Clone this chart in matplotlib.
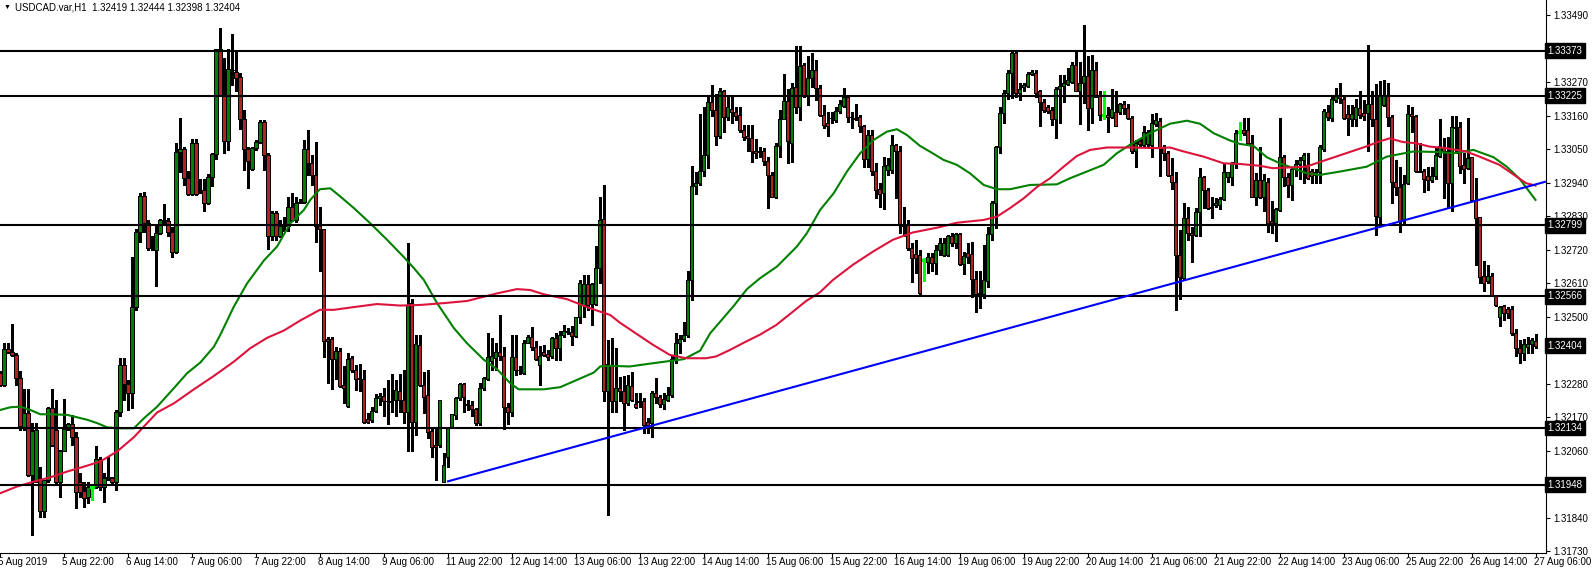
import numpy as np
import matplotlib
matplotlib.use("Agg")
import matplotlib.pyplot as plt
from matplotlib.collections import LineCollection, PolyCollection

plt.rcParams['font.family'] = ['Liberation Sans', 'DejaVu Sans']

# USDCAD H1, bars from 5 Aug 2019 06:00 to 27 Aug 2019 06:00 (bar index -1 .. 383)
opens = [
    1.32314, 1.32276, 1.32393, 1.32383, 1.32374, 1.32297, 1.32133, 1.32182, 1.31980, 1.31958,
    1.31964, 1.31863, 1.31964, 1.32199, 1.32128, 1.31958, 1.32059, 1.32130, 1.32147, 1.32106,
    1.31955, 1.31927, 1.31906, 1.31940, 1.31940, 1.32031, 1.31940, 1.31973, 1.31971, 1.31958,
    1.32186, 1.32341, 1.32278, 1.32250, 1.32531, 1.32778, 1.32896, 1.32806, 1.32728, 1.32719,
    1.32774, 1.32817, 1.32813, 1.32778, 1.32711, 1.33039, 1.33049, 1.32954, 1.32902, 1.33069,
    1.32916, 1.32914, 1.32872, 1.32957, 1.33034, 1.33378, 1.33228, 1.33076, 1.33310, 1.33304,
    1.33286, 1.33148, 1.33049, 1.32984, 1.33053, 1.33072, 1.33138, 1.33031, 1.32763, 1.32839,
    1.32765, 1.32800, 1.32798, 1.32861, 1.32817, 1.32874, 1.32877, 1.33049, 1.33003, 1.32965,
    1.32798, 1.32787, 1.32425, 1.32425, 1.32360, 1.32387, 1.32276, 1.32207, 1.32363, 1.32325,
    1.32297, 1.32294, 1.32164, 1.32161, 1.32191, 1.32232, 1.32239, 1.32223, 1.32221, 1.32226,
    1.32257, 1.32226, 1.32185, 1.32546, 1.32155, 1.32407, 1.32276, 1.32243, 1.32125, 1.32079,
    1.32079, 1.31958, 1.32038, 1.32136, 1.32177, 1.32232, 1.32279, 1.32212, 1.32210, 1.32196,
    1.32150, 1.32265, 1.32294, 1.32355, 1.32363, 1.32382, 1.32369, 1.32204, 1.32185, 1.32366,
    1.32325, 1.32316, 1.32414, 1.32432, 1.32399, 1.32341, 1.32385, 1.32377, 1.32369, 1.32429,
    1.32396, 1.32440, 1.32452, 1.32450, 1.32437, 1.32500, 1.32538, 1.32606, 1.32540, 1.32540,
    1.32659, 1.32819, 1.32257, 1.32341, 1.32221, 1.32265, 1.32254, 1.32215, 1.32272, 1.32213,
    1.32221, 1.32221, 1.32153, 1.32150, 1.32248, 1.32235, 1.32213, 1.32226, 1.32241, 1.32360,
    1.32412, 1.32425, 1.32440, 1.32620, 1.32929, 1.32938, 1.32978, 1.33031, 1.33206, 1.33178,
    1.33093, 1.33239, 1.33154, 1.33180, 1.33170, 1.33162, 1.33111, 1.33093, 1.33085, 1.33045,
    1.33043, 1.33042, 1.33012, 1.32965, 1.32894, 1.33060, 1.33148, 1.33209, 1.33069, 1.33253,
    1.33187, 1.33326, 1.33228, 1.33283, 1.33310, 1.33250, 1.33162, 1.33135, 1.33153, 1.33146,
    1.33176, 1.33192, 1.33222, 1.33156, 1.33150, 1.33154, 1.33124, 1.33016, 1.33096, 1.32979,
    1.32918, 1.32907, 1.32981, 1.32981, 1.33064, 1.33045, 1.32804, 1.32801, 1.32724, 1.32706,
    1.32702, 1.32684, 1.32680, 1.32695, 1.32675, 1.32719, 1.32702, 1.32702, 1.32765, 1.32741,
    1.32771, 1.32673, 1.32708, 1.32704, 1.32622, 1.32576, 1.32574, 1.32615, 1.32772, 1.32872,
    1.33058, 1.33168, 1.33233, 1.33299, 1.33364, 1.33235, 1.33255, 1.33257, 1.33297, 1.33301,
    1.33239, 1.33206, 1.33187, 1.33178, 1.33148, 1.33246, 1.33257, 1.33264, 1.33271, 1.33326,
    1.33242, 1.33266, 1.33290, 1.33184, 1.33310, 1.33225, 1.33162, 1.33162, 1.33154, 1.33170,
    1.33170, 1.33198, 1.33184, 1.33151, 1.33045, 1.33075, 1.33064, 1.33067, 1.33064, 1.33132,
    1.33143, 1.33056, 1.33038, 1.32965, 1.32943, 1.32702, 1.32626, 1.32823, 1.32774, 1.32768,
    1.32842, 1.32957, 1.32916, 1.32858, 1.32866, 1.32867, 1.32885, 1.32957, 1.32957, 1.33001,
    1.33107, 1.33113, 1.33113, 1.33069, 1.32894, 1.32948, 1.32894, 1.32943, 1.32812, 1.32808,
    1.32850, 1.33025, 1.32957, 1.32932, 1.32984, 1.33001, 1.33014, 1.32998, 1.32979, 1.32965,
    1.32973, 1.33049, 1.33173, 1.33151, 1.33211, 1.33225, 1.33213, 1.33165, 1.33148, 1.33148,
    1.33184, 1.33168, 1.33168, 1.33198, 1.33148, 1.32828, 1.33195, 1.33228, 1.33154, 1.32943,
    1.32925, 1.32812, 1.32938, 1.33165, 1.33157, 1.32979, 1.32979, 1.32960, 1.32947, 1.32960,
    1.33027, 1.33058, 1.33045, 1.32938, 1.33118, 1.33122, 1.32998, 1.32987, 1.33023, 1.32881,
    1.32828, 1.32633, 1.32615, 1.32633, 1.32566, 1.32500, 1.32535, 1.32524, 1.32524, 1.32445,
    1.32396, 1.32379, 1.32401, 1.32410, 1.32419,
]
highs = [
    1.32321, 1.32412, 1.32412, 1.32476, 1.32379, 1.32321, 1.32261, 1.32261, 1.32150, 1.32150,
    1.32007, 1.31964, 1.32204, 1.32261, 1.32226, 1.32062, 1.32228, 1.32152, 1.32177, 1.32122,
    1.31985, 1.31958, 1.31958, 1.31951, 1.32076, 1.32040, 1.31985, 1.32038, 1.31974, 1.32193,
    1.32365, 1.32365, 1.32292, 1.32695, 1.32787, 1.32907, 1.32910, 1.32817, 1.32763, 1.32801,
    1.32819, 1.32870, 1.32823, 1.32795, 1.33069, 1.33151, 1.33058, 1.32979, 1.33082, 1.33082,
    1.32951, 1.32951, 1.32968, 1.33036, 1.33380, 1.33447, 1.33350, 1.33378, 1.33428, 1.33376,
    1.33299, 1.33178, 1.33058, 1.33058, 1.33080, 1.33146, 1.33146, 1.33038, 1.32848, 1.32848,
    1.32817, 1.32826, 1.32894, 1.32905, 1.32894, 1.32885, 1.33078, 1.33111, 1.33031, 1.33074,
    1.32861, 1.32787, 1.32434, 1.32434, 1.32401, 1.32396, 1.32336, 1.32379, 1.32369, 1.32341,
    1.32344, 1.32325, 1.32182, 1.32204, 1.32246, 1.32248, 1.32265, 1.32292, 1.32312, 1.32292,
    1.32312, 1.32325, 1.32743, 1.32557, 1.32440, 1.32440, 1.32319, 1.32323, 1.32136, 1.32133,
    1.32226, 1.32051, 1.32136, 1.32180, 1.32237, 1.32283, 1.32281, 1.32226, 1.32221, 1.32199,
    1.32283, 1.32303, 1.32445, 1.32429, 1.32412, 1.32505, 1.32401, 1.32217, 1.32440, 1.32440,
    1.32336, 1.32423, 1.32440, 1.32465, 1.32418, 1.32403, 1.32407, 1.32390, 1.32434, 1.32445,
    1.32451, 1.32473, 1.32462, 1.32469, 1.32500, 1.32620, 1.32637, 1.32637, 1.32609, 1.32730,
    1.32894, 1.32932, 1.32423, 1.32429, 1.32396, 1.32303, 1.32305, 1.32308, 1.32319, 1.32248,
    1.32248, 1.32232, 1.32166, 1.32254, 1.32297, 1.32243, 1.32248, 1.32270, 1.32369, 1.32447,
    1.32440, 1.32483, 1.32648, 1.32995, 1.32976, 1.33164, 1.33189, 1.33220, 1.33261, 1.33231,
    1.33250, 1.33245, 1.33222, 1.33220, 1.33187, 1.33187, 1.33129, 1.33129, 1.33129, 1.33082,
    1.33058, 1.33053, 1.33025, 1.32976, 1.33071, 1.33178, 1.33297, 1.33246, 1.33266, 1.33389,
    1.33389, 1.33332, 1.33356, 1.33365, 1.33343, 1.33261, 1.33195, 1.33170, 1.33170, 1.33187,
    1.33211, 1.33250, 1.33228, 1.33173, 1.33198, 1.33162, 1.33129, 1.33113, 1.33113, 1.33003,
    1.32938, 1.33023, 1.33020, 1.33096, 1.33067, 1.33060, 1.32859, 1.32817, 1.32741, 1.32752,
    1.32719, 1.32691, 1.32708, 1.32708, 1.32735, 1.32757, 1.32757, 1.32768, 1.32774, 1.32774,
    1.32774, 1.32713, 1.32743, 1.32746, 1.32648, 1.32648, 1.32735, 1.32795, 1.32878, 1.33060,
    1.33189, 1.33244, 1.33310, 1.33370, 1.33370, 1.33266, 1.33268, 1.33304, 1.33310, 1.33310,
    1.33244, 1.33213, 1.33195, 1.33189, 1.33255, 1.33293, 1.33293, 1.33315, 1.33337, 1.33376,
    1.33337, 1.33458, 1.33354, 1.33359, 1.33337, 1.33239, 1.33239, 1.33187, 1.33246, 1.33242,
    1.33202, 1.33209, 1.33198, 1.33157, 1.33080, 1.33082, 1.33124, 1.33113, 1.33165, 1.33168,
    1.33151, 1.33064, 1.33045, 1.33020, 1.32976, 1.32784, 1.32872, 1.32861, 1.32795, 1.32856,
    1.32987, 1.32960, 1.32921, 1.32894, 1.32889, 1.32894, 1.33003, 1.32976, 1.33009, 1.33113,
    1.33140, 1.33151, 1.33151, 1.33096, 1.32971, 1.33058, 1.32968, 1.32954, 1.32878, 1.32856,
    1.33151, 1.33031, 1.32971, 1.32992, 1.33014, 1.33025, 1.33038, 1.33036, 1.32984, 1.32984,
    1.33064, 1.33181, 1.33195, 1.33228, 1.33250, 1.33268, 1.33220, 1.33195, 1.33195, 1.33213,
    1.33242, 1.33211, 1.33392, 1.33239, 1.33264, 1.33272, 1.33277, 1.33266, 1.33162, 1.33014,
    1.32992, 1.32965, 1.33195, 1.33189, 1.33162, 1.33069, 1.32984, 1.32992, 1.32992, 1.33058,
    1.33148, 1.33085, 1.33091, 1.33159, 1.33159, 1.33140, 1.33036, 1.33151, 1.33025, 1.32954,
    1.32828, 1.32681, 1.32670, 1.32642, 1.32571, 1.32533, 1.32537, 1.32531, 1.32535, 1.32458,
    1.32423, 1.32425, 1.32432, 1.32429, 1.32444,
]
lows = [
    1.32272, 1.32272, 1.32379, 1.32369, 1.32276, 1.32128, 1.32128, 1.31975, 1.31783, 1.31955,
    1.31843, 1.31841, 1.31958, 1.32076, 1.31953, 1.31909, 1.32057, 1.32128, 1.32079, 1.31871,
    1.31909, 1.31876, 1.31887, 1.31898, 1.31937, 1.31931, 1.31890, 1.31964, 1.31953, 1.31931,
    1.32172, 1.32226, 1.32193, 1.32199, 1.32522, 1.32746, 1.32779, 1.32717, 1.32719, 1.32601,
    1.32772, 1.32806, 1.32763, 1.32695, 1.32708, 1.32976, 1.32932, 1.32899, 1.32899, 1.32899,
    1.32905, 1.32845, 1.32869, 1.32927, 1.33016, 1.33228, 1.33036, 1.33047, 1.33261, 1.33239,
    1.33115, 1.32981, 1.32921, 1.32981, 1.33047, 1.33069, 1.32981, 1.32721, 1.32752, 1.32752,
    1.32761, 1.32782, 1.32782, 1.32812, 1.32809, 1.32872, 1.32874, 1.32965, 1.32932, 1.32746,
    1.32651, 1.32366, 1.32283, 1.32261, 1.32294, 1.32270, 1.32217, 1.32204, 1.32319, 1.32259,
    1.32257, 1.32152, 1.32150, 1.32155, 1.32188, 1.32210, 1.32172, 1.32147, 1.32185, 1.32172,
    1.32185, 1.32150, 1.32057, 1.32060, 1.32111, 1.32272, 1.32182, 1.32100, 1.32040, 1.31964,
    1.32073, 1.31955, 1.32005, 1.32136, 1.32163, 1.32226, 1.32188, 1.32193, 1.32172, 1.32144,
    1.32144, 1.32259, 1.32292, 1.32323, 1.32325, 1.32358, 1.32130, 1.32147, 1.32172, 1.32308,
    1.32312, 1.32312, 1.32412, 1.32390, 1.32358, 1.32276, 1.32371, 1.32358, 1.32363, 1.32358,
    1.32358, 1.32434, 1.32443, 1.32407, 1.32434, 1.32478, 1.32500, 1.32522, 1.32473, 1.32538,
    1.32609, 1.32221, 1.31849, 1.32188, 1.32188, 1.32221, 1.32128, 1.32210, 1.32221, 1.32199,
    1.32204, 1.32119, 1.32117, 1.32106, 1.32217, 1.32202, 1.32196, 1.32221, 1.32237, 1.32347,
    1.32379, 1.32418, 1.32434, 1.32555, 1.32902, 1.32932, 1.32960, 1.32987, 1.33157, 1.33064,
    1.33085, 1.33107, 1.33146, 1.33135, 1.33146, 1.33107, 1.33080, 1.33042, 1.33009, 1.33020,
    1.33025, 1.32998, 1.32856, 1.32892, 1.32888, 1.33025, 1.33148, 1.33003, 1.33009, 1.33168,
    1.33146, 1.33220, 1.33195, 1.33255, 1.33211, 1.33157, 1.33118, 1.33093, 1.33135, 1.33140,
    1.33168, 1.33187, 1.33140, 1.33118, 1.33146, 1.33107, 1.32992, 1.32992, 1.32965, 1.32888,
    1.32861, 1.32852, 1.32965, 1.32970, 1.32888, 1.32774, 1.32765, 1.32719, 1.32612, 1.32643,
    1.32575, 1.32615, 1.32643, 1.32651, 1.32640, 1.32702, 1.32699, 1.32699, 1.32730, 1.32724,
    1.32669, 1.32640, 1.32675, 1.32565, 1.32514, 1.32527, 1.32560, 1.32598, 1.32752, 1.32790,
    1.33036, 1.33135, 1.33213, 1.33217, 1.33222, 1.33211, 1.33239, 1.33255, 1.33293, 1.33222,
    1.33124, 1.33173, 1.33168, 1.33129, 1.33085, 1.33135, 1.33206, 1.33261, 1.33266, 1.33239,
    1.33132, 1.33200, 1.33113, 1.33135, 1.33220, 1.33146, 1.33148, 1.33107, 1.33151, 1.33124,
    1.33165, 1.33165, 1.33148, 1.33038, 1.32990, 1.33060, 1.33060, 1.33060, 1.33025, 1.33126,
    1.32960, 1.33014, 1.32960, 1.32918, 1.32522, 1.32557, 1.32622, 1.32752, 1.32680, 1.32763,
    1.32763, 1.32856, 1.32852, 1.32823, 1.32861, 1.32852, 1.32883, 1.32943, 1.32932, 1.32987,
    1.33080, 1.33096, 1.33067, 1.32892, 1.32867, 1.32888, 1.32845, 1.32779, 1.32774, 1.32749,
    1.32848, 1.32927, 1.32892, 1.32883, 1.32960, 1.32951, 1.32940, 1.32951, 1.32938, 1.32940,
    1.32940, 1.33045, 1.33146, 1.33143, 1.33206, 1.33200, 1.33148, 1.33096, 1.33124, 1.33126,
    1.33151, 1.33146, 1.33042, 1.33124, 1.32768, 1.32808, 1.33192, 1.33124, 1.32872, 1.32899,
    1.32779, 1.32804, 1.32935, 1.33107, 1.32976, 1.32973, 1.32910, 1.32916, 1.32943, 1.32951,
    1.33025, 1.32888, 1.32859, 1.32848, 1.33036, 1.32970, 1.32940, 1.32984, 1.32878, 1.32669,
    1.32609, 1.32585, 1.32609, 1.32566, 1.32535, 1.32469, 1.32489, 1.32494, 1.32440, 1.32369,
    1.32349, 1.32358, 1.32379, 1.32379, 1.32398,
]
closes = [
    1.32276, 1.32393, 1.32382, 1.32374, 1.32297, 1.32139, 1.32182, 1.31980, 1.32124, 1.32128,
    1.31863, 1.31964, 1.32198, 1.32079, 1.31958, 1.32059, 1.32130, 1.32147, 1.32106, 1.31925,
    1.31925, 1.31903, 1.31940, 1.31940, 1.32031, 1.31940, 1.31969, 1.31971, 1.31958, 1.32186,
    1.32341, 1.32278, 1.32250, 1.32531, 1.32778, 1.32896, 1.32806, 1.32724, 1.32726, 1.32774,
    1.32817, 1.32815, 1.32778, 1.32713, 1.33039, 1.33049, 1.32954, 1.32902, 1.33069, 1.32903,
    1.32914, 1.32872, 1.32957, 1.33034, 1.33378, 1.33228, 1.33076, 1.33312, 1.33308, 1.33283,
    1.33148, 1.33049, 1.33012, 1.33053, 1.33072, 1.33138, 1.33031, 1.32763, 1.32839, 1.32765,
    1.32798, 1.32798, 1.32861, 1.32817, 1.32874, 1.32877, 1.33049, 1.33003, 1.32965, 1.32798,
    1.32787, 1.32418, 1.32418, 1.32360, 1.32387, 1.32272, 1.32265, 1.32360, 1.32323, 1.32294,
    1.32295, 1.32155, 1.32155, 1.32191, 1.32232, 1.32239, 1.32221, 1.32221, 1.32219, 1.32259,
    1.32226, 1.32185, 1.32538, 1.32155, 1.32410, 1.32276, 1.32237, 1.32122, 1.32073, 1.32073,
    1.32226, 1.32013, 1.32136, 1.32180, 1.32232, 1.32279, 1.32237, 1.32210, 1.32196, 1.32152,
    1.32265, 1.32297, 1.32366, 1.32369, 1.32382, 1.32369, 1.32204, 1.32185, 1.32366, 1.32323,
    1.32323, 1.32414, 1.32434, 1.32399, 1.32360, 1.32369, 1.32374, 1.32366, 1.32429, 1.32396,
    1.32440, 1.32453, 1.32450, 1.32437, 1.32500, 1.32609, 1.32606, 1.32538, 1.32606, 1.32659,
    1.32817, 1.32257, 1.32344, 1.32221, 1.32265, 1.32254, 1.32215, 1.32276, 1.32226, 1.32202,
    1.32219, 1.32144, 1.32144, 1.32248, 1.32235, 1.32213, 1.32228, 1.32241, 1.32360, 1.32412,
    1.32425, 1.32440, 1.32620, 1.32929, 1.32938, 1.32978, 1.33031, 1.33206, 1.33178, 1.33093,
    1.33242, 1.33154, 1.33187, 1.33170, 1.33159, 1.33111, 1.33091, 1.33085, 1.33045, 1.33038,
    1.33041, 1.33012, 1.32965, 1.32894, 1.33060, 1.33148, 1.33209, 1.33075, 1.33250, 1.33187,
    1.33323, 1.33228, 1.33283, 1.33308, 1.33250, 1.33162, 1.33129, 1.33126, 1.33151, 1.33176,
    1.33198, 1.33222, 1.33154, 1.33154, 1.33152, 1.33124, 1.33016, 1.33096, 1.32979, 1.32916,
    1.32903, 1.32995, 1.32998, 1.33064, 1.33045, 1.32804, 1.32798, 1.32724, 1.32691, 1.32691,
    1.32577, 1.32684, 1.32695, 1.32675, 1.32719, 1.32741, 1.32743, 1.32765, 1.32741, 1.32771,
    1.32673, 1.32699, 1.32695, 1.32622, 1.32574, 1.32574, 1.32620, 1.32772, 1.32872, 1.33058,
    1.33168, 1.33233, 1.33301, 1.33364, 1.33235, 1.33246, 1.33261, 1.33297, 1.33304, 1.33235,
    1.33206, 1.33178, 1.33176, 1.33148, 1.33246, 1.33257, 1.33268, 1.33275, 1.33326, 1.33242,
    1.33268, 1.33290, 1.33184, 1.33310, 1.33222, 1.33162, 1.33162, 1.33154, 1.33181, 1.33126,
    1.33198, 1.33184, 1.33151, 1.33042, 1.33071, 1.33067, 1.33107, 1.33107, 1.33135, 1.33146,
    1.33056, 1.33038, 1.32965, 1.32943, 1.32702, 1.32629, 1.32823, 1.32774, 1.32768, 1.32842,
    1.32957, 1.32916, 1.32856, 1.32856, 1.32872, 1.32885, 1.32973, 1.32973, 1.33005, 1.33104,
    1.33107, 1.33104, 1.33069, 1.32894, 1.32948, 1.32894, 1.32948, 1.32808, 1.32806, 1.32852,
    1.33025, 1.32957, 1.32932, 1.32984, 1.33001, 1.33014, 1.33031, 1.32954, 1.32960, 1.32976,
    1.33056, 1.33176, 1.33154, 1.33213, 1.33225, 1.33217, 1.33151, 1.33151, 1.33165, 1.33187,
    1.33162, 1.33159, 1.33198, 1.33148, 1.32830, 1.33225, 1.33228, 1.33154, 1.32943, 1.32925,
    1.32812, 1.32935, 1.33165, 1.33157, 1.32979, 1.32976, 1.32951, 1.32947, 1.32962, 1.33031,
    1.33060, 1.33045, 1.32938, 1.33122, 1.33122, 1.32995, 1.32984, 1.33020, 1.32881, 1.32823,
    1.32631, 1.32611, 1.32633, 1.32568, 1.32538, 1.32531, 1.32511, 1.32511, 1.32445, 1.32396,
    1.32379, 1.32410, 1.32410, 1.32423, 1.32404,
]

# moving averages, read at bar positions
ma_fast_bar = [-1, 1.6, 4.1, 6.6, 9.1, 11.6, 15.8, 18.3, 20.8, 23.3, 25.8, 29.1, 32.5, 35, 38.3,
               42.5, 45.8, 49.1, 52.5, 54.1, 57.5, 60.8, 65, 68.3, 71.6, 75, 76.6, 79, 81.6, 84.1,
               87.5, 91.6, 95.8, 100, 102.5, 105, 108.3, 112.5, 115.8, 120, 123.3, 126.6, 128.7,
               135, 139.1, 143.3, 147.5, 149.1, 151.6, 156.5, 162.5, 170, 174.1, 176.6, 179.1,
               182.5, 185.8, 189.1, 193.3, 198.3, 200.8, 204.1, 207.5, 210.8, 214.1, 217.5, 220.8,
               223.3, 225.8, 229.1, 232, 235, 238.3, 241.6, 245, 248.3, 251.6, 256.6, 263.3, 266.6,
               270.8, 275, 278.3, 281.6, 286.6, 291.6, 295.8, 299.1, 302.5, 306.6, 309, 312.5,
               315.8, 319.1, 322.5, 325.8, 329.1, 334.1, 340.8, 345.8, 352.5, 359.1, 362.5, 367.5,
               372.5, 375.8, 379.1, 383]
ma_fast = [1.32193, 1.32202, 1.32204, 1.32193, 1.32179, 1.32179, 1.32177, 1.32169, 1.32161, 1.32150,
           1.32136, 1.32133, 1.32133, 1.32166, 1.32204, 1.32265, 1.32314, 1.32349, 1.32401, 1.32440,
           1.32533, 1.32609, 1.32684, 1.32730, 1.32806, 1.32850, 1.32883, 1.32918, 1.32921, 1.32894,
           1.32856, 1.32806, 1.32752, 1.32695, 1.32659, 1.32620, 1.32544, 1.32462, 1.32412, 1.32358,
           1.32327, 1.32281, 1.32261, 1.32261, 1.32268, 1.32292, 1.32316, 1.32336, 1.32338, 1.32336,
           1.32347, 1.32360, 1.32388, 1.32445, 1.32483, 1.32535, 1.32590, 1.32626, 1.32664, 1.32730,
           1.32774, 1.32850, 1.32905, 1.32976, 1.33036, 1.33080, 1.33107, 1.33115, 1.33096, 1.33060,
           1.33038, 1.33014, 1.32998, 1.32970, 1.32932, 1.32918, 1.32918, 1.32932, 1.32934, 1.32954,
           1.32976, 1.32998, 1.33036, 1.33064, 1.33102, 1.33133, 1.33143, 1.33133, 1.33102, 1.33078,
           1.33067, 1.33060, 1.33023, 1.33003, 1.32987, 1.32970, 1.32965, 1.32976, 1.32992, 1.33025,
           1.33042, 1.33040, 1.33036, 1.33047, 1.33023, 1.32992, 1.32951, 1.32883]
ma_slow_bar = [-0.9, 3.3, 7.5, 11.6, 15.8, 20, 24.1, 28.3, 32.5, 35, 38.3, 42.5, 47.5, 52.5, 57.5,
               61.6, 65.8, 70, 74.1, 79, 82.5, 87.5, 93.3, 99.1, 104.1, 110, 115.8, 123.3, 128.3,
               131.6, 135, 140.8, 146.6, 151.6, 154, 157.3, 162.3, 166.5, 170.6, 175.6, 178.1,
               181.5, 185.6, 189, 193.1, 197.3, 200.6, 204, 207.3, 212.3, 217.3, 222.3, 227.3,
               233.8, 238.3, 245, 248.3, 251.6, 255, 258.3, 261.6, 265, 268.3, 271.6, 275.8, 281.6,
               288.3, 291.6, 295, 300, 305, 309, 314, 317.3, 322.3, 325.6, 330.6, 335.6, 340.6, 344,
               346.5, 349.8, 353.1, 356.5, 360.6, 365.6, 369, 374, 377.3, 380.6, 383]
ma_slow = [1.31920, 1.31942, 1.31958, 1.31972, 1.31991, 1.32007, 1.32024, 1.32057, 1.32104, 1.32139,
           1.32185, 1.32215, 1.32261, 1.32305, 1.32352, 1.32396, 1.32430, 1.32454, 1.32487, 1.32522,
           1.32522, 1.32531, 1.32541, 1.32536, 1.32538, 1.32544, 1.32551, 1.32576, 1.32590, 1.32587,
           1.32573, 1.32557, 1.32527, 1.32505, 1.32480, 1.32451, 1.32407, 1.32374, 1.32363, 1.32363,
           1.32369, 1.32390, 1.32418, 1.32440, 1.32472, 1.32516, 1.32551, 1.32579, 1.32620, 1.32670,
           1.32713, 1.32752, 1.32776, 1.32793, 1.32808, 1.32817, 1.32828, 1.32856, 1.32888, 1.32925,
           1.32954, 1.32992, 1.33027, 1.33047, 1.33055, 1.33055, 1.33053, 1.33055, 1.33042, 1.33025,
           1.33003, 1.33001, 1.32995, 1.32987, 1.32990, 1.32992, 1.33014, 1.33036, 1.33058, 1.33075,
           1.33085, 1.33073, 1.33069, 1.33058, 1.33053, 1.33042, 1.33025, 1.32998, 1.32968, 1.32938,
           1.32930]

levels = [1.33373, 1.33225, 1.32799, 1.32566, 1.32134, 1.31948]
trend_bar = [110.8, 385.6]
trend_price = [1.31958, 1.32943]

price_ticks = [1.31730, 1.31840, 1.31950, 1.32060, 1.32170, 1.32280, 1.32390, 1.32500, 1.32610,
               1.32720, 1.32830, 1.32940, 1.33050, 1.33160, 1.33270, 1.33380, 1.33490]
hidden_ticks = [1.31950, 1.32390, 1.33380]   # covered by the marker boxes
time_labels = ["5 Aug 2019", "5 Aug 22:00", "6 Aug 14:00", "7 Aug 06:00", "7 Aug 22:00",
               "8 Aug 14:00", "9 Aug 06:00", "11 Aug 22:00", "12 Aug 14:00", "13 Aug 06:00",
               "13 Aug 22:00", "14 Aug 14:00", "15 Aug 06:00", "15 Aug 22:00", "16 Aug 14:00",
               "19 Aug 06:00", "19 Aug 22:00", "20 Aug 14:00", "21 Aug 06:00", "21 Aug 22:00",
               "22 Aug 14:00", "23 Aug 06:00", "25 Aug 22:00", "26 Aug 14:00", "27 Aug 06:00"]
title = "USDCAD.var,H1  1.32419 1.32444 1.32398 1.32404"

BULL = '#008000'
BEAR = '#b22222'

fig = plt.figure(figsize=(15.92, 5.72), dpi=100)
ax = fig.add_axes([0, 19 / 572, 1546 / 1592, 553 / 572])

o = np.array(opens)
h = np.array(highs)
l = np.array(lows)
c = np.array(closes)
x = np.arange(len(c)) - 1
h = np.maximum(h, np.maximum(o, c))
l = np.minimum(l, np.minimum(o, c))
doji = np.round(o * 1e5) == np.round(c * 1e5)

# wicks
wick_segs = [[(xi, lo), (xi, hi)] for xi, lo, hi in zip(x, l, h)]
wick_cols = ['#00ff00' if d else 'black' for d in doji]
ax.add_collection(LineCollection(wick_segs, colors=wick_cols, linewidths=0.75,
                                 antialiaseds=False, zorder=2))

# bodies
def bodies(mask):
    out = []
    for xi, oi, ci in zip(x[mask], o[mask], c[mask]):
        b0, b1 = min(oi, ci), max(oi, ci)
        out.append([(xi - 0.4, b0), (xi + 0.4, b0), (xi + 0.4, b1), (xi - 0.4, b1)])
    return out

up = (c > o) & ~doji
dn = (c < o) & ~doji
ax.add_collection(PolyCollection(bodies(up), facecolors=BULL, edgecolors='black',
                                 linewidths=0.6, antialiaseds=False, zorder=3))
ax.add_collection(PolyCollection(bodies(dn), facecolors=BEAR, edgecolors='black',
                                 linewidths=0.6, antialiaseds=False, zorder=3))
ax.add_collection(LineCollection([[(xi - 0.4, ci), (xi + 0.4, ci)] for xi, ci in zip(x[doji], c[doji])],
                                 colors='#00ff00', linewidths=0.75, antialiaseds=False, zorder=3))

# moving averages
ax.plot(ma_fast_bar, ma_fast, color='#008000', lw=1.5, zorder=4)
ax.plot(ma_slow_bar, ma_slow, color='#dc143c', lw=1.5, zorder=4)

# support / resistance
for lv in levels:
    ax.axhline(lv, color='black', lw=1.5, zorder=5)

# trend line
ax.plot(trend_bar, trend_price, color='#0000ff', lw=1.5, zorder=6, solid_capstyle='butt')

ax.set_xlim(-0.875, 385.625)
ax.set_ylim(1.317235, 1.335393)

ax.spines['top'].set_visible(False)
ax.spines['left'].set_visible(False)
for s in ('right', 'bottom'):
    ax.spines[s].set_linewidth(0.8)

ax.yaxis.tick_right()
ax.set_yticks(price_ticks)
ax.set_yticklabels(["" if p in hidden_ticks else f"{p:.5f}" for p in price_ticks], fontsize=7)
ax.tick_params(axis='y', direction='out', length=3, width=0.8, pad=2)

tick_pos = list(range(-1, 384, 16))
ax.set_xticks(tick_pos)
ax.set_xticklabels([])
ax.tick_params(axis='x', direction='out', length=3, width=0.8)
for k, lab in zip(tick_pos, time_labels):
    ax.annotate(lab, xy=(k, 0), xycoords=ax.get_xaxis_transform(), xytext=(-1.2, -3),
                textcoords='offset points', ha='left', va='top', fontsize=7,
                annotation_clip=False)

# highlighted price labels
for lv in levels + [closes[-1]]:
    ax.annotate(f"{lv:.5f}", xy=(1, lv), xycoords=ax.get_yaxis_transform(), xytext=(1.2, 0),
                textcoords='offset points', ha='left', va='center', fontsize=7, color='white',
                bbox=dict(boxstyle='square,pad=0.25', fc='black', ec='black'),
                annotation_clip=False, zorder=10)

fig.text(4 / 1592, 1 - 7 / 572, "\u25bc", fontsize=5, va='center', ha='left')
fig.text(15 / 1592, 1 - 7 / 572, title, fontsize=7, va='center', ha='left')

fig.savefig("out.png", dpi=100, facecolor='white')
